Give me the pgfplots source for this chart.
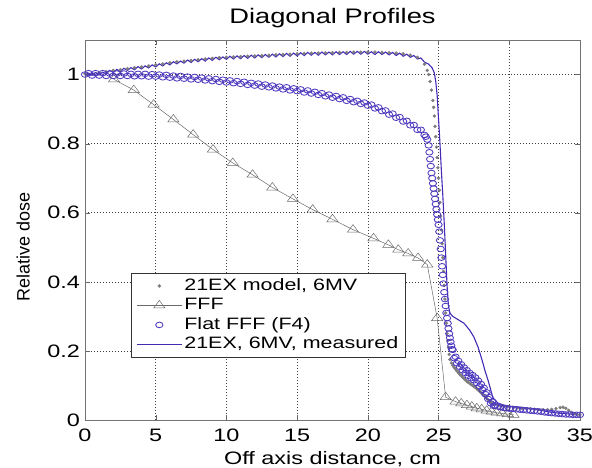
\documentclass[border=0pt]{standalone}
\usepackage{fontspec}
\setmainfont{Liberation Sans}[FakeStretch=1.3]
\newfontfamily\ylfont{Liberation Sans}
\usepackage{pgfplots}
\pgfplotsset{compat=1.18}

\definecolor{mblue}{RGB}{70,42,182}
\definecolor{cblue}{RGB}{78,58,190}
\definecolor{mgray}{RGB}{125,125,125}
\definecolor{fgray}{RGB}{105,105,105}

\begin{document}
\begin{tikzpicture}
\useasboundingbox (-85pt,-48pt) rectangle (507pt,420pt);
\begin{axis}[
  width=495pt, height=380pt, scale only axis,
  xmin=0, xmax=35, ymin=0, ymax=1.1,
  xtick={0,5,10,15,20,25,30,35},
  ytick={0,0.2,0.4,0.6,0.8,1},
  /pgf/number format/assume math mode=true,
  tick label style={font=\fontsize{18}{20}\selectfont},
  xticklabel style={anchor=base, yshift=-22pt},
  yticklabel style={anchor=east, inner sep=0pt, xshift=-5pt},
  tick align=inside, major tick length=5pt,
  tick style={black!60},
  axis line style={black!55},
  grid=major,
  major grid style={black!75, line width=0.5pt, dash pattern=on 1.2pt off 1.8pt},
  title={Diagonal Profiles},
  title style={font=\fontsize{21}{24}\selectfont, at={(axis description cs:0.5,1)}, anchor=base, yshift=10pt},
  xlabel={Off axis distance, cm},
  xlabel style={font=\fontsize{18}{20}\selectfont, at={(axis description cs:0.5,0)}, anchor=base, yshift=-45pt},
  ylabel={Relative dose},
  ylabel style={font=\ylfont\fontsize{18}{20}\selectfont, at={(axis description cs:-0.125,0.455)}, anchor=center},
  legend style={at={(axis description cs:0.093,0.387)}, anchor=north west,
    draw=black!80, line width=0.5pt, font=\fontsize{16.5}{19}\selectfont,
    inner xsep=5pt, inner ysep=3pt, row sep=0pt,
    nodes={text height=12pt, text depth=3.5pt, inner ysep=2pt}},
  legend cell align=left,
  legend image code/.code={\draw[mark repeat=2,mark phase=2,#1] plot coordinates {(0pt,0pt) (22.5pt,0pt) (45pt,0pt)};},
]

% 21EX model, 6MV
\addplot[only marks, mark=*, mark size=1.5pt, color=mgray, mark options={draw=none, fill=mgray}] coordinates {
(0,1.002)(0.5,1.003)(1,1.005)(1.5,1.008)(2,1.012)(2.5,1.014)(3,1.017)(3.5,1.020)(4,1.022)(4.5,1.025)
(5,1.028)(5.5,1.031)(6,1.034)(6.5,1.037)(7,1.039)(7.5,1.041)(8,1.043)(8.5,1.045)(9,1.047)(9.5,1.049)
(10,1.050)(10.5,1.051)(11,1.052)(11.5,1.053)(12,1.054)(12.5,1.055)(13,1.056)(13.5,1.057)(14,1.058)(14.5,1.059)
(15,1.060)(15.5,1.061)(16,1.062)(16.5,1.062)(17,1.063)(17.5,1.063)(18,1.064)(18.5,1.064)(19,1.065)(19.5,1.065)
(20,1.065)(20.5,1.065)(21,1.064)(21.5,1.063)(22,1.062)(22.5,1.060)(23,1.056)(23.5,1.050)(24,1.030)(24.2,1.012)
(24.3,1.000)(24.4,0.980)(24.5,0.955)(24.6,0.925)(24.65,0.905)(24.7,0.880)(24.75,0.850)(24.8,0.820)(24.85,0.790)(24.9,0.760)
(24.95,0.730)(25.0,0.700)(25.05,0.665)(25.1,0.630)(25.15,0.590)(25.2,0.550)(25.25,0.510)(25.3,0.470)(25.35,0.430)(25.4,0.390)
(25.45,0.350)(25.5,0.310)(25.55,0.280)(25.6,0.250)(25.65,0.230)(25.7,0.210)(25.75,0.190)(25.8,0.175)(25.9,0.165)(26.0,0.158)
(26.1,0.152)(26.2,0.147)(26.3,0.142)(26.4,0.137)(26.5,0.132)(26.6,0.128)(26.7,0.124)(26.8,0.120)(26.9,0.116)(27.0,0.112)
(27.1,0.109)(27.2,0.106)(27.3,0.103)(27.4,0.100)(27.5,0.097)(27.6,0.094)(27.7,0.091)(27.8,0.087)(27.9,0.083)(28.0,0.079)
(28.1,0.075)(28.2,0.071)(28.3,0.067)(28.4,0.063)(28.5,0.059)(28.6,0.055)(28.7,0.052)(28.8,0.049)(28.9,0.047)(29.0,0.045)
(29.2,0.043)(29.4,0.041)(29.6,0.040)(29.8,0.039)(30,0.038)(30.3,0.036)(30.6,0.035)(30.9,0.034)(31.2,0.033)(31.5,0.032)
(31.8,0.031)(32.1,0.030)(32.4,0.030)(32.7,0.030)(33.0,0.031)(33.3,0.033)(33.6,0.036)(33.8,0.037)(34.0,0.034)(34.2,0.028)
(34.4,0.022)(34.6,0.018)(34.8,0.016)(35,0.015)
};
\addlegendentry{21EX model, 6MV}

% FFF
\addplot[color=fgray, line width=0.5pt, mark=triangle, mark size=5pt, mark options={xscale=1.3, line width=0.5pt}] coordinates {
(2.05,0.986)(3.45,0.955)(4.85,0.913)(6.25,0.870)(7.65,0.826)(9.05,0.783)(10.45,0.744)(11.85,0.710)
(13.25,0.673)(14.7,0.640)(16.1,0.609)(17.5,0.581)(18.95,0.551)(20.4,0.526)(21.45,0.507)(22.15,0.493)
(22.85,0.482)(23.55,0.469)(24.2,0.450)(24.9,0.295)(25.5,0.066)(26.2,0.053)(26.6,0.048)(27.0,0.043)
(27.35,0.039)(27.7,0.034)(28.05,0.031)(28.4,0.027)(28.75,0.024)(29.1,0.021)(29.5,0.019)(29.9,0.017)(30.3,0.015)
};
\addlegendentry{FFF}

% Flat FFF (F4)
\addplot[only marks, color=cblue, mark=o, mark size=2.8pt, mark options={xscale=1.3, line width=0.85pt}] coordinates {
(0,1.000)(0.25,1.004)(0.5,0.997)(0.75,1.004)(1,0.997)(1.25,1.004)(1.5,0.996)(1.75,1.003)(2,0.996)(2.25,1.003)
(2.5,0.996)(2.75,1.003)(3,0.996)(3.25,1.002)(3.5,0.995)(3.75,1.002)(4,0.995)(4.25,1.002)(4.5,0.994)(4.75,1.001)
(5,0.994)(5.25,1.000)(5.5,0.992)(5.75,0.999)(6,0.991)(6.25,0.997)(6.5,0.989)(6.75,0.996)(7,0.988)(7.25,0.994)
(7.5,0.986)(7.75,0.993)(8,0.985)(8.25,0.991)(8.5,0.983)(8.75,0.989)(9,0.981)(9.25,0.987)(9.5,0.979)(9.75,0.985)
(10,0.977)(10.25,0.983)(10.5,0.975)(10.75,0.981)(11,0.973)(11.25,0.979)(11.5,0.970)(11.75,0.976)(12,0.968)(12.25,0.974)
(12.5,0.965)(12.75,0.971)(13,0.963)(13.25,0.968)(13.5,0.960)(13.75,0.965)(14,0.957)(14.25,0.963)(14.5,0.954)(14.75,0.960)
(15,0.952)(15.25,0.957)(15.5,0.948)(15.75,0.954)(16,0.945)(16.25,0.950)(16.5,0.941)(16.75,0.946)(17,0.937)(17.25,0.942)
(17.5,0.933)(17.75,0.938)(18,0.929)(18.25,0.934)(18.5,0.924)(18.75,0.929)(19,0.920)(19.25,0.924)(19.5,0.915)(19.75,0.919)
(20,0.910)(20.25,0.913)(20.5,0.902)(20.75,0.905)(21,0.894)(21.25,0.896)(21.5,0.884)(21.75,0.887)(22,0.875)(22.25,0.877)
(22.5,0.864)(22.75,0.866)(23,0.853)(23.25,0.854)(23.5,0.840)(23.75,0.840)(24,0.825)(24.1,0.820)(24.2,0.812)(24.3,0.795)
(24.35,0.775)(24.4,0.755)(24.45,0.735)(24.5,0.715)(24.55,0.700)(24.6,0.685)(24.65,0.670)(24.7,0.655)(24.75,0.640)(24.8,0.625)
(24.85,0.610)(24.9,0.595)(24.95,0.580)(25.0,0.565)(25.05,0.545)(25.1,0.520)(25.15,0.495)(25.2,0.470)(25.25,0.445)(25.3,0.420)
(25.35,0.395)(25.4,0.370)(25.45,0.350)(25.5,0.330)(25.55,0.310)(25.6,0.295)(25.65,0.280)(25.7,0.265)(25.75,0.250)(25.8,0.238)
(25.85,0.226)(25.9,0.215)(25.95,0.205)(26.0,0.203)(26.1,0.179)(26.2,0.183)(26.3,0.164)(26.4,0.171)(26.5,0.154)(26.6,0.161)
(26.7,0.144)(26.8,0.152)(26.9,0.136)(27.0,0.144)(27.1,0.128)(27.2,0.136)(27.3,0.121)(27.4,0.130)(27.5,0.115)(27.6,0.123)
(27.7,0.107)(27.8,0.114)(27.9,0.097)(28.0,0.104)(28.1,0.087)(28.2,0.093)(28.3,0.075)(28.4,0.080)(28.5,0.061)(28.6,0.066)
(28.7,0.048)(28.8,0.053)(28.9,0.041)(29.0,0.042)(29.2,0.039)(29.4,0.037)(29.6,0.035)(29.8,0.034)(30,0.033)(30.25,0.032)
(30.5,0.031)(30.75,0.030)(31,0.029)(31.25,0.028)(31.5,0.027)(31.75,0.026)(32,0.025)(32.25,0.024)(32.5,0.022)(32.75,0.021)
(33,0.020)(33.25,0.019)(33.5,0.018)(33.75,0.017)(34,0.016)(34.25,0.016)(34.5,0.015)(34.75,0.015)(35,0.015)
};
\addlegendentry{Flat FFF (F4)}

% 21EX, 6MV, measured
\addplot[color=mblue, line width=1.1pt, no markers] coordinates {
(0,1.000)(0.25,1.004)(0.5,0.998)(0.75,1.006)(1,0.999)(1.25,1.007)(1.5,1.002)(1.75,1.012)(2,1.006)(2.25,1.015)
(2.5,1.008)(2.75,1.018)(3,1.012)(3.25,1.020)(3.5,1.014)(3.75,1.023)(4,1.016)(4.25,1.025)(4.5,1.019)(4.75,1.028)
(5,1.022)(5.25,1.031)(5.5,1.025)(5.75,1.034)(6,1.028)(6.25,1.037)(6.5,1.031)(6.75,1.039)(7,1.033)(7.25,1.042)
(7.5,1.035)(7.75,1.044)(8,1.037)(8.25,1.046)(8.5,1.039)(8.75,1.048)(9,1.041)(9.25,1.050)(9.5,1.043)(9.75,1.051)
(10,1.044)(10.25,1.053)(10.5,1.045)(10.75,1.054)(11,1.046)(11.25,1.055)(11.5,1.047)(11.75,1.056)(12,1.048)(12.25,1.057)
(12.5,1.049)(12.75,1.058)(13,1.050)(13.25,1.059)(13.5,1.051)(13.75,1.060)(14,1.052)(14.25,1.061)(14.5,1.053)(14.75,1.062)
(15,1.054)(15.25,1.063)(15.5,1.055)(15.75,1.064)(16,1.056)(16.25,1.064)(16.5,1.056)(16.75,1.065)(17,1.057)(17.25,1.065)
(17.5,1.057)(17.75,1.066)(18,1.058)(18.25,1.066)(18.5,1.058)(18.75,1.067)(19,1.059)(19.25,1.067)(19.5,1.059)(19.75,1.067)
(20,1.059)(20.25,1.066)(20.5,1.058)(20.75,1.066)(21,1.058)(21.25,1.065)(21.5,1.057)(21.75,1.064)(22,1.055)(22.25,1.062)
(22.5,1.053)(22.75,1.059)(23,1.050)(23.25,1.055)(23.5,1.045)(23.75,1.048)(24,1.036)(24.3,1.030)(24.55,1.019)(24.7,1.005)
(24.8,0.980)(24.9,0.940)(25.0,0.870)(25.1,0.800)(25.2,0.720)(25.3,0.650)(25.4,0.570)(25.5,0.480)(25.6,0.390)(25.7,0.330)
(25.8,0.310)(26.0,0.300)(26.4,0.290)(26.8,0.280)(27.2,0.260)(27.5,0.240)(27.8,0.210)(28.1,0.170)(28.3,0.140)(28.5,0.115)
(28.7,0.085)(28.85,0.064)(29.2,0.049)(29.6,0.043)(30,0.040)(31,0.035)(32,0.030)(33,0.022)(34,0.018)(35,0.015)
};
\addlegendentry{21EX, 6MV, measured}

\end{axis}
\end{tikzpicture}
\end{document}
